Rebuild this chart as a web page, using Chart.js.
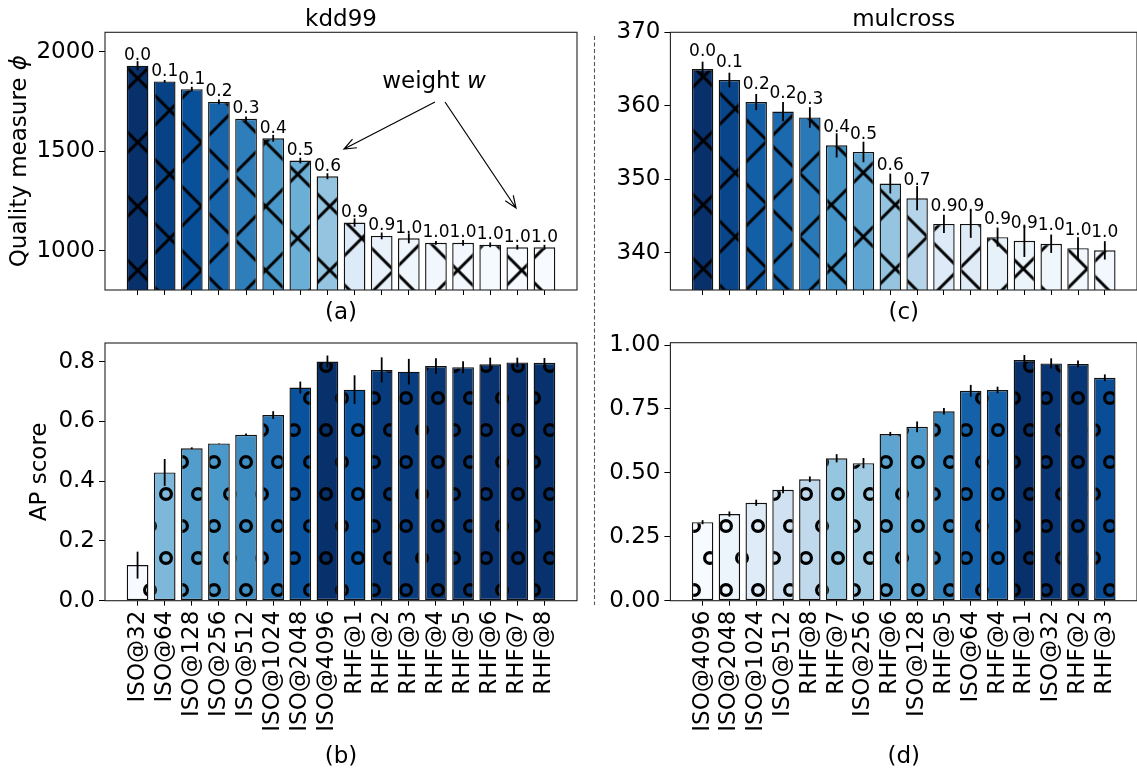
<!DOCTYPE html>
<html>
<head>
<meta charset="utf-8">
<script src="https://cdn.jsdelivr.net/npm/chart.js@4.4.0/dist/chart.umd.min.js"></script>
<style>
html, body { margin: 0; padding: 0; background: #fff; overflow: hidden; }
#wrap { position: relative; width: 1137px; height: 771px; }
#wrap canvas { position: absolute; left: 0; top: 0; }
</style>
</head>
<body>
<div id="wrap">
<canvas id="ca" width="1137" height="771"></canvas>
<canvas id="cb" width="1137" height="771"></canvas>
<canvas id="cc" width="1137" height="771"></canvas>
<canvas id="cd" width="1137" height="771"></canvas>
</div>
<script>
// ---- data ----
const kddNames = ['ISO@32', 'ISO@64', 'ISO@128', 'ISO@256', 'ISO@512', 'ISO@1024', 'ISO@2048', 'ISO@4096',
                  'RHF@1', 'RHF@2', 'RHF@3', 'RHF@4', 'RHF@5', 'RHF@6', 'RHF@7', 'RHF@8'];
const kddQuality = [1930, 1851, 1812, 1748, 1663, 1565, 1453, 1374, 1141, 1074, 1062, 1039, 1039, 1029, 1017, 1017];
const kddQualityErr = [23, 7, 12, 12, 12, 17, 14, 15, 21, 17, 25, 10, 14, 12, 12, 12];
const kddWeights = [0.0, 0.07, 0.12, 0.2, 0.3, 0.4, 0.5, 0.6, 0.87, 0.93, 0.96, 0.97, 0.98, 0.99, 1.0, 1.0];
const kddAP = [0.119, 0.429, 0.51, 0.526, 0.555, 0.621, 0.713, 0.80, 0.706, 0.772, 0.766, 0.785, 0.781, 0.791, 0.797, 0.796];
const kddAPErr = [0.045, 0.045, 0.003, 0.001, 0.004, 0.013, 0.02, 0.02, 0.048, 0.042, 0.043, 0.026, 0.02, 0.022, 0.016, 0.016];

const mulNames = ['ISO@4096', 'ISO@2048', 'ISO@1024', 'ISO@512', 'RHF@8', 'RHF@7', 'ISO@256', 'RHF@6',
                  'ISO@128', 'RHF@5', 'ISO@64', 'RHF@4', 'RHF@1', 'ISO@32', 'RHF@2', 'RHF@3'];
const mulQuality = [365.0, 363.5, 360.5, 359.2, 358.4, 354.6, 353.7, 349.4, 347.4, 343.9, 343.9, 342.1, 341.6, 341.2, 340.6, 340.3];
const mulQualityErr = [1.0, 1.0, 1.1, 1.3, 1.4, 1.65, 1.4, 1.35, 1.65, 1.25, 1.9, 1.3, 2.2, 1.25, 1.5, 1.25];
const mulWeights = [0.0, 0.08, 0.18, 0.22, 0.28, 0.38, 0.46, 0.6, 0.7, 0.87, 0.88, 0.92, 0.94, 0.96, 0.97, 0.98];
const mulAP = [0.307, 0.339, 0.383, 0.434, 0.475, 0.557, 0.538, 0.652, 0.68, 0.741, 0.821, 0.824, 0.941, 0.928, 0.926, 0.872];
const mulAPErr = [0.008, 0.01, 0.012, 0.014, 0.011, 0.016, 0.02, 0.008, 0.021, 0.013, 0.023, 0.013, 0.02, 0.02, 0.013, 0.013];

const kddQualityTicks = [1000, 1500, 2000];
const mulQualityTicks = [340, 350, 360, 370];
const kddAPTicks = [0, 0.2, 0.4, 0.6, 0.8];
const mulAPTicks = [0, 0.25, 0.5, 0.75, 1.0];

// ---- styling helpers ----
const FONT = 'DejaVu Sans';
const Y_AXIS_W = 70;
const BLUES = [[247, 251, 255], [222, 235, 247], [198, 219, 239], [158, 202, 225], [107, 174, 214],
               [66, 146, 198], [33, 113, 181], [8, 81, 156], [8, 48, 107]];

function blues(t) {
    t = Math.min(1, Math.max(0, t));
    const s = t * 8, i = Math.min(7, Math.floor(s)), f = s - i;
    const a = BLUES[i], b = BLUES[i + 1];
    const c = a.map((v, k) => Math.round(v + (b[k] - v) * f));
    return `rgb(${c[0]},${c[1]},${c[2]})`;
}

// bar colour + hatch in one pattern, anchored to page coordinates
function hatchFill(color, kind, ox, oy) {
    const tile = document.createElement('canvas');
    tile.width = kind === 'x' ? 64 : 32;
    tile.height = 64;
    const g = tile.getContext('2d');
    g.fillStyle = color;
    g.fillRect(0, 0, tile.width, tile.height);
    g.strokeStyle = '#000';
    if (kind === 'x') {
        g.lineWidth = 3;
        for (const dx of [-64, 0, 64]) for (const dy of [-64, 0, 64]) {
            g.beginPath();
            g.moveTo(dx, dy); g.lineTo(dx + 64, dy + 64);
            g.moveTo(dx + 64, dy); g.lineTo(dx, dy + 64);
            g.stroke();
        }
    } else {
        g.lineWidth = 3.2;
        for (const dx of [-32, 0, 32]) for (const dy of [-64, 0, 64]) {
            for (const [cx, cy] of [[dx, dy], [dx + 16, dy + 32]]) {
                g.beginPath();
                g.arc(cx, cy, 5.4, 0, Math.PI * 2);
                g.stroke();
            }
        }
    }
    const p = g.createPattern(tile, 'repeat');
    p.setTransform(new DOMMatrix([1, 0, 0, 1, ox, oy]));
    return p;
}

function normFills(vals, kind, ox, oy) {
    const lo = Math.min(...vals), hi = Math.max(...vals);
    return vals.map(v => hatchFill(blues((v - lo) / (hi - lo)), kind, ox, oy));
}

function drawMixed(ctx, parts, cx, cy, rot, baseline) {
    ctx.save();
    ctx.translate(cx, cy);
    ctx.rotate(rot);
    let total = 0;
    const widths = parts.map(([t, it]) => {
        ctx.font = (it ? 'italic ' : '') + '23px "' + FONT + '"';
        const w = ctx.measureText(t).width;
        total += w;
        return w;
    });
    let x = -total / 2;
    ctx.textAlign = 'left';
    ctx.textBaseline = baseline;
    ctx.fillStyle = '#000';
    parts.forEach(([t, it], i) => {
        ctx.font = (it ? 'italic ' : '') + '23px "' + FONT + '"';
        ctx.fillText(t, x, 0);
        x += widths[i];
    });
    ctx.restore();
}

function arrow(ctx, x0, y0, x1, y1) {
    const a = Math.atan2(y1 - y0, x1 - x0), L = 13, s = 0.38;
    ctx.beginPath();
    ctx.moveTo(x0, y0); ctx.lineTo(x1, y1);
    ctx.moveTo(x1 - L * Math.cos(a - s), y1 - L * Math.sin(a - s));
    ctx.lineTo(x1, y1);
    ctx.lineTo(x1 - L * Math.cos(a + s), y1 - L * Math.sin(a + s));
    ctx.stroke();
}

const extraCfg = {};

const extras = {
    id: 'extras',
    afterDatasetsDraw(chart) {
        const c = extraCfg[chart.canvas.id];
        const ctx = chart.ctx, yS = chart.scales.y, area = chart.chartArea;
        const meta = chart.getDatasetMeta(0);
        ctx.save();
        ctx.strokeStyle = '#000';
        ctx.lineWidth = 1.8;
        meta.data.forEach((bar, i) => {
            ctx.beginPath();
            ctx.moveTo(bar.x, yS.getPixelForValue(c.values[i] - c.errors[i]));
            ctx.lineTo(bar.x, yS.getPixelForValue(c.values[i] + c.errors[i]));
            ctx.stroke();
        });
        ctx.strokeStyle = '#222';
        ctx.lineWidth = 1.1;
        ctx.strokeRect(area.left, area.top, area.right - area.left, area.bottom - area.top);
        if (c.weights) {
            ctx.fillStyle = '#000';
            ctx.font = '17px "' + FONT + '"';
            ctx.textAlign = 'center';
            ctx.textBaseline = 'alphabetic';
            meta.data.forEach((bar, i) => {
                ctx.fillText(c.weights[i].toFixed(1), bar.x, bar.y - c.labelGap);
            });
        }
        ctx.restore();
    },
    afterDraw(chart) {
        const c = extraCfg[chart.canvas.id];
        const ctx = chart.ctx, area = chart.chartArea;
        const cx = (area.left + area.right) / 2;
        ctx.save();
        ctx.fillStyle = '#000';
        ctx.font = '23px "' + FONT + '"';
        ctx.textAlign = 'center';
        if (c.title) {
            ctx.textBaseline = 'alphabetic';
            ctx.fillText(c.title, cx, 25.5);
        }
        ctx.textBaseline = 'middle';
        ctx.fillText(c.tag, cx, c.tagY);
        if (c.yLabel) drawMixed(ctx, c.yLabel, c.yLabelX, (area.top + area.bottom) / 2, -Math.PI / 2, 'middle');
        if (c.annotate) {
            drawMixed(ctx, [['weight ', false], ['w', true]], 434, 88, 0, 'alphabetic');
            ctx.strokeStyle = '#000';
            ctx.lineWidth = 1.2;
            arrow(ctx, 435, 102, 344, 149);
            arrow(ctx, 445, 102, 516, 208);
            // dashed separator between the two datasets
            ctx.strokeStyle = '#555';
            ctx.lineWidth = 1.1;
            ctx.setLineDash([4, 2.5]);
            ctx.beginPath();
            ctx.moveTo(594.5, 36);
            ctx.lineTo(594.5, 605);
            ctx.stroke();
        }
        ctx.restore();
    }
};

function makeChart(id, c) {
    extraCfg[id] = c;
    const tickFont = {family: FONT, size: 23};
    return new Chart(document.getElementById(id).getContext('2d'), {
        type: 'bar',
        data: {
            datasets: [{
                data: c.values.map((v, i) => ({x: i, y: v})),
                backgroundColor: c.fills,
                borderColor: '#111',
                borderWidth: 1.4,
                borderSkipped: false,
                barPercentage: 0.8,
                categoryPercentage: 1.0
            }]
        },
        options: {
            responsive: false,
            animation: false,
            events: [],
            layout: {
                padding: {
                    left: c.area.left - Y_AXIS_W,
                    top: c.area.top,
                    right: 1137 - c.area.right,
                    bottom: 771 - c.area.bottom - c.xAxisH
                }
            },
            plugins: {legend: {display: false}, tooltip: {enabled: false}},
            scales: {
                x: {
                    type: 'linear',
                    offset: false,
                    min: -1.2,
                    max: 16.2,
                    afterBuildTicks: s => { s.ticks = c.values.map((v, i) => ({value: i})); },
                    afterFit: s => { s.height = c.xAxisH; s.paddingLeft = 0; s.paddingRight = 0; },
                    ticks: {
                        display: !!c.names,
                        autoSkip: false,
                        minRotation: 90,
                        maxRotation: 90,
                        padding: 5,
                        color: '#000',
                        font: tickFont,
                        callback: v => (c.names ? c.names[v] : '')
                    },
                    grid: {display: true, offset: false, drawOnChartArea: false, drawTicks: true, tickLength: 5, color: '#000', lineWidth: 1},
                    border: {display: false}
                },
                y: {
                    min: c.yMin,
                    max: c.yMax,
                    afterBuildTicks: s => { s.ticks = c.ticks.map(v => ({value: v})); },
                    afterFit: s => { s.width = Y_AXIS_W; s.paddingTop = 0; s.paddingBottom = 0; },
                    ticks: {padding: 4, color: '#000', font: tickFont, callback: v => c.fmt(v)},
                    grid: {display: true, drawOnChartArea: false, drawTicks: true, tickLength: 6, color: '#000', lineWidth: 1},
                    border: {display: false}
                }
            }
        },
        plugins: [extras]
    });
}

makeChart('ca', {
    values: kddQuality, errors: kddQualityErr, weights: kddWeights, labelGap: 5.5,
    fills: kddWeights.map(w => hatchFill(blues(1 - w), 'x', 137.7, 78.3)),
    area: {left: 105, right: 577, top: 32.3, bottom: 290}, xAxisH: 20,
    yMin: 802, yMax: 2098, ticks: kddQualityTicks, fmt: v => String(v),
    title: 'kdd99', tag: '(a)', tagY: 313,
    yLabel: [['Quality measure ', false], ['\u03D5', true]], yLabelX: 20,
    annotate: true
});

makeChart('cb', {
    values: kddAP, errors: kddAPErr, names: kddNames,
    fills: normFills(kddAP, 'o', 150, 590),
    area: {left: 105, right: 577, top: 343, bottom: 600.7}, xAxisH: 140,
    yMin: 0, yMax: 0.862, ticks: kddAPTicks, fmt: v => v.toFixed(1),
    tag: '(b)', tagY: 757,
    yLabel: [['AP score', false]], yLabelX: 40
});

makeChart('cc', {
    values: mulQuality, errors: mulQualityErr, weights: mulWeights, labelGap: 13.3,
    fills: mulWeights.map(w => hatchFill(blues(1 - w), 'x', 703.3, 76.7)),
    area: {left: 670.4, right: 1143, top: 32.3, bottom: 290}, xAxisH: 20,
    yMin: 334.9, yMax: 370, ticks: mulQualityTicks, fmt: v => String(v),
    title: 'mulcross', tag: '(c)', tagY: 313
});

makeChart('cd', {
    values: mulAP, errors: mulAPErr, names: mulNames,
    fills: normFills(mulAP, 'o', 150, 590),
    area: {left: 670.4, right: 1143, top: 342.7, bottom: 600.7}, xAxisH: 140,
    yMin: 0, yMax: 1.009, ticks: mulAPTicks, fmt: v => v.toFixed(2),
    tag: '(d)', tagY: 757
});
</script>
</body>
</html>
